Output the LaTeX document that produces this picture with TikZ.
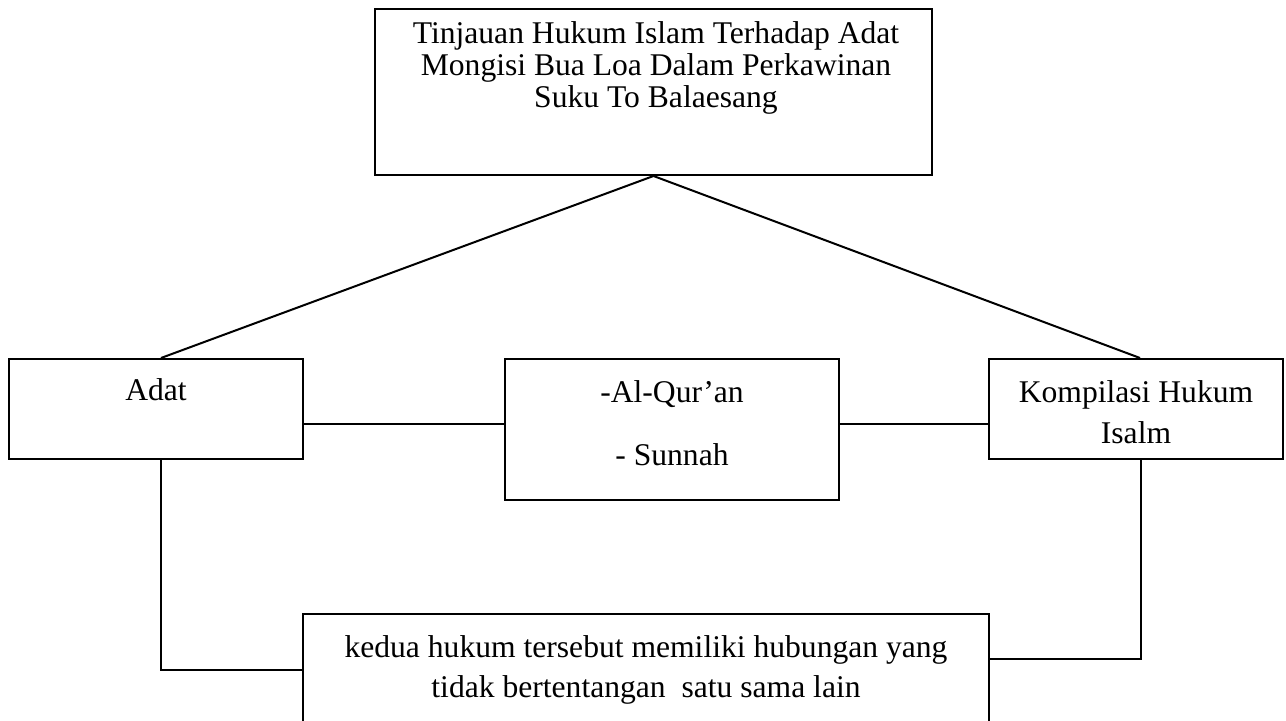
\documentclass[tikz,border=0pt]{standalone}
\usepackage{fontspec}
\setmainfont{Liberation Serif}

\begin{document}
\begin{tikzpicture}[x=0.5pt, y=-0.5pt, line width=1pt,
	kotak/.style 2 args={draw, minimum width=#1, minimum height=#2, inner sep=0pt},
	teks/.style={align=center, inner sep=0pt, font=\fontsize{15.8pt}{#1}\selectfont}]
	\useasboundingbox (0,0) rectangle (1286,721);
	\clip (0,0) rectangle (1286,721);
	% Kotak-kotak
	\node[kotak={278.5pt}{83pt}] (judul) at (653.5,92) {};
	\node[kotak={147pt}{50pt}] (adat) at (156,409) {};
	\node[kotak={167pt}{70.5pt}] (quran) at (672,429.5) {};
	\node[kotak={147pt}{50pt}] (khi) at (1136,409) {};
	\node[kotak={343pt}{56pt}] (hub) at (646,670) {};
	% Teks di dalam kotak
	\node[teks=16pt] (judulTeks) at (656,68) {Tinjauan Hukum Islam Terhadap Adat\\Mongisi Bua Loa Dalam Perkawinan\\Suku To Balaesang};
	\node[teks=16pt] (adatTeks) at (156,390) {Adat};
	\node[teks=31.5pt] (quranTeks) at (672,423.5) {-Al-Qur’an\\- Sunnah};
	\node[teks=20.5pt] (khiTeks) at (1136,412.5) {Kompilasi Hukum\\Isalm};
	\node[teks=20pt] (hubTeks) at (646,670) {kedua hukum tersebut memiliki hubungan yang\\tidak bertentangan\ \ satu sama lain};
	% Garis penghubung
	\coordinate (adatKanan) at ([yshift=-7.5pt]adat.east);
	\draw (judul.south) -- ([xshift=2.5pt]adat.north);
	\draw (judul.south) -- ([xshift=2pt]khi.north);
	\draw (adatKanan) -- (adatKanan -| quran.west);
	\draw (quran.east |- adatKanan) -- (khi.west |- adatKanan);
	\draw ([xshift=2.5pt]adat.south) |- (hub.west);
	\draw ([xshift=2.5pt]khi.south) |- ([yshift=5.5pt]hub.east);
\end{tikzpicture}
\end{document}
